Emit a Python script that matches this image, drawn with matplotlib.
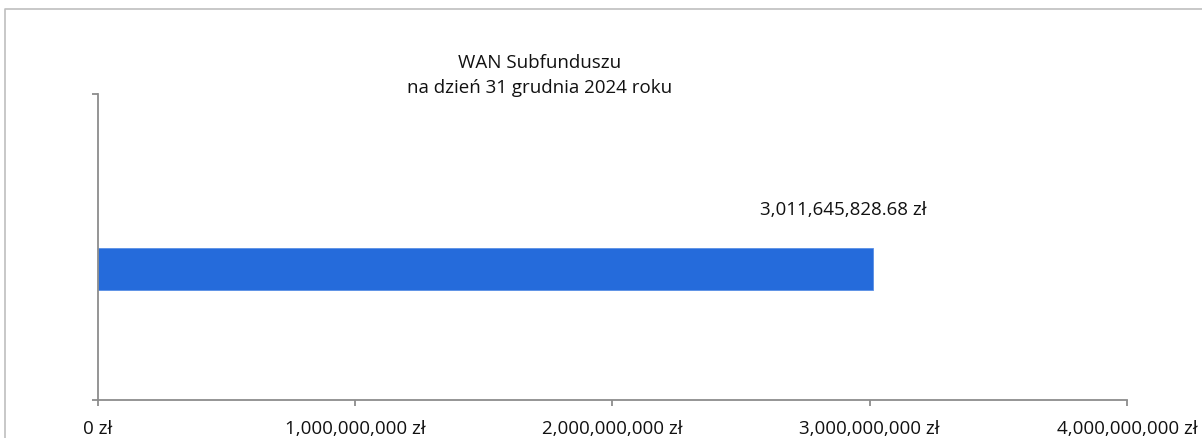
"""WAN Subfunduszu - single horizontal bar chart."""

import matplotlib

matplotlib.use("Agg")
import matplotlib.pyplot as plt
from matplotlib.lines import Line2D
from matplotlib.ticker import FuncFormatter

# data
categories = [""]
values = [3011645828.68]
value_labels = ["3,011,645,828.68 zł"]
x_ticks = [0, 1e9, 2e9, 3e9, 4e9]
title_lines = ["WAN Subfunduszu", "na dzień 31 grudnia 2024 roku"]

plt.rcParams["font.family"] = ["Open Sans", "DejaVu Sans"]

fig = plt.figure(figsize=(12.02, 4.39), dpi=100)
ax = fig.add_axes([0.0815, 0.0866, 0.8561, 0.6970])

bar_h = 0.136
ax.barh(range(len(categories)), values, height=bar_h, color="#256BDB",
        edgecolor="#5A8FE6", linewidth=0.6)

ax.set_xlim(x_ticks[0], x_ticks[-1])
ax.set_ylim(-0.428, 0.572)
ax.set_xticks(x_ticks)
ax.xaxis.set_major_formatter(FuncFormatter(lambda v, p: f"{v:,.0f} zł"))
ax.set_yticks(list(ax.get_ylim()))
ax.set_yticklabels(["", ""])

grey = "#8C8C8C"
fs = 13.5
for side in ["top", "right"]:
    ax.spines[side].set_visible(False)
for side in ["left", "bottom"]:
    ax.spines[side].set_color(grey)
    ax.spines[side].set_linewidth(1.3)
ax.tick_params(axis="x", colors=grey, length=4, width=1.3, labelcolor="#111111",
               labelsize=fs, pad=10)
ax.tick_params(axis="y", colors=grey, length=4, width=1.3)

for i, (v, lab) in enumerate(zip(values, value_labels)):
    ax.annotate(lab, xy=(v, i + bar_h / 2), xytext=(-21, 28),
                textcoords="offset points", ha="center", va="center",
                fontsize=fs, color="#111111")

fig.text(0.4485, 1 - 63 / 439, title_lines[0], ha="center", va="center",
         fontsize=fs, color="#111111")
fig.text(0.4485, 1 - 88 / 439, title_lines[1], ha="center", va="center",
         fontsize=fs, color="#111111")

# chart border (only top and left edges fall inside the image)
top = 1 - 10 / 439
left = 5 / 1202
fig.add_artist(Line2D([left, left, 1.0], [0.0, top, top], transform=fig.transFigure,
                      color="#BFBFBF", linewidth=1.2))

fig.savefig("out.png", dpi=100)
